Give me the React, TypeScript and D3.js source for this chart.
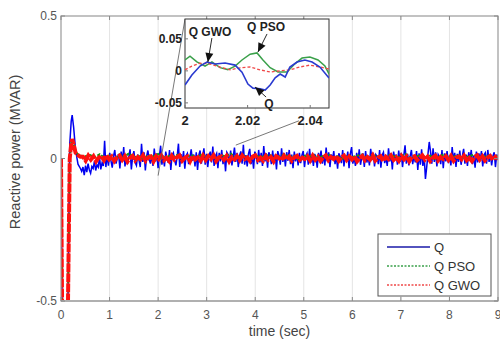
import React from 'react';
import * as d3 from 'd3';

const W = 500;
const H = 340;

// axis ticks
const xTicks = [0, 1, 2, 3, 4, 5, 6, 7, 8, 9];
const yTicks = [-0.5, 0, 0.5];
const yTickLabels = ['-0.5', '0', '0.5'];
const insetXTicks = [2, 2.02, 2.04];
const insetXTickLabels = ['2', '2.02', '2.04'];
const insetYTicks = [-0.05, 0, 0.05];
const insetYTickLabels = ['-0.05', '0', '0.05'];

const seriesNames = ['Q', 'Q PSO', 'Q GWO'];

// start-up transient: time (sec) / reactive power (MVAR)
const transientTime = [0, 0.03, 0.13, 0.18, 0.21, 0.23, 0.26, 0.3, 0.35, 0.4];
const qTransient = [0, -0.7, -0.7, 0.05, 0.13, 0.152, 0.11, 0.03, -0.02, -0.035];
const psoTransient = [0, -0.7, -0.7, 0.0, 0.05, 0.065, 0.05, 0.025, 0.014, 0.01];
const gwoTransient = [0, -0.7, -0.7, 0.0, 0.05, 0.068, 0.05, 0.02, 0.012, 0.006];

// ripple after 0.4 s up to 9 s, evenly spaced, in 1e-3 MVAR
const qRipple = [
  -45, -30, -58, -25, -48, -18, -40, -52, -28, -35, -10, -42, -22, -30, 5, -38, -15, -26, 62, -30,
  12, -25, 20, -8, -32, 8, 30, -18, 2, 15, -35, 24, -12, 40, -28, 10, -20, 6, 32, -38, 5, 26, -14, -24, 14, -6, -30, 52, -12, 22,
  -42, 8, 28, -4, -18, 12, -26, 35, -10, 18, -34, 6, 45, -22, 10, -28, 24, 2, -15, 30, -40, 12, 20, -6, -24, 8, 52, -30, 15, -12,
  26, -36, 10, 18, -20, 4, 32, -8, 14, -28, 22, -40, 12, 28, -18, 6, 36, -22, 16, -30, 10, 24, -14, 42, -26, 8, 18, -34, 20, -10,
  30, -20, 12, -45, 22, 14, -16, 28, -24, 6, 38, -12, 20, -30, 10, 25, -18, 48, -22, 12, -28, 16, 34, -20, 8, -36, 24, 12, -20, 30,
  -14, 20, -26, 44, -10, 18, -32, 22, 8, -20, 28, -16, 14, -38, 26, 10, -22, 36, -12, 18, -28, 22, -8, 30, -20, 14, -34, 24, -10, 16,
  -24, 20, -16, 12, 26, -30, 8, 18, -22, 34, -14, 10, -26, 16, 4, -32, 20, -6, 28, -18, 12, -24, 38, -10, 22, -30, 14, -4, 26, -20,
  10, -36, 18, 6, -16, 30, -28, 12, -8, 24, -34, 16, 40, -18, 8, -26, 20, -12, 32, -22, 4, 18, -30, 26, -14, 10, -24, 34, -6, 20,
  -28, 14, 8, -20, 30, -32, 12, 22, -16, 6, -26, 36, -10, 18, -38, 24, -4, 14, -22, 28, -12, 20, -30, 10, 46, -18, 16, -24, 8, 30,
  -20, 12, -14, 26, -40, 18, -22, 32, -26, 10, -72, -30, 16, 58, 24, -18, 36, -12, 22, -28, 14, 6, -20, 30, -34, 18, -10, 26, -16, 12,
  -24, 40, -8, 20, -30, 16, -12, 28, -22, 8, 34, -18, 14, -26, 22, -4, 30, -20, 10, -32, 24, -14, 18, -8, 26, -28, 12, 20, -18, 30,
  -12, 16, -24, 8, 22, -30, 14, -6,
];
const psoRipple = [
  8, 12, 5, 15, 2, 10, -4, 14, 6, 18, 3, 9, -2, 12, 7, 16, 1, 10, 4, 13, -3, 8, 11, 2, 15,
  5, 9, -1, 12, 6, 17, 3, 8, 10, -2, 14, 4, 9, 12, 1, 7, 15, 3, 10, -4, 11, 6, 13, 2, 9,
  16, 4, 8, -1, 12, 5, 10, 14, 2, 7, 11, -3, 9, 13, 4, 8, 15, 1, 6, 12, 3, 10, -2, 9, 14,
  5, 7, 11, 2, 8, 13, 4, 6, 10, 1, 9,
];
const gwoRipple = [
  6, -8, 10, -4, 8, -10, 3, 9, -6, 11, -3, 7, -9, 4, 10, -5, 8, -11, 2, 9, -7, 5, -3, 11, -8, 4, 7, -10, 8, -2,
  10, -6, 3, -9, 9, -4, 5, 11, -8, 2, 7, -10, 9, -3, 4, -8, 10, -5, 8, -2, 11, -9, 3, 7, -4, 9, -10, 5, -3, 8,
  -6, 10, -2, 4, -9, 7, 11, -5, 3, -8, 9, -4, 5, -10, 8, 2, -6, 10, -3, 7, -8, 4, 9, -5, 3, -2, 8, -7, 10, -4,
  6, -9, 3, 11, -6, 5, -2, 9, -8, 4, 10, -5, 7, -3, 8, -10, 2, 9, -6, 5, -4, 11, -7, 3, 8, -9, 6, -2, 10, -5,
  4, -8, 9, -3, 7, -10, 5, 8, -6, 2, 11, -4, 6, -9, 3, 10, -7, 5, -2, 8, -5, 9, -8, 4, 7, -3, 10, -6, 2, -9,
  5, 11, -4, 8, -7, 3, 9, -5, 6, -2,
];

// zoomed window (2 .. 2.046 s)
const insetQTime = [2.0, 2.0022, 2.0048, 2.007, 2.0096, 2.0128, 2.016, 2.0182, 2.0201, 2.0217,
  2.024, 2.0256, 2.0272, 2.0288, 2.0304, 2.032, 2.0335, 2.0358, 2.0383, 2.0406, 2.0431, 2.046];
const insetQ = [-0.022, -0.0065, 0.0075, 0.0138, 0.0107, 0.0122, 0.009, -0.002, -0.0206, -0.027,
  -0.028, -0.03, -0.022, -0.011, -0.005, -0.0096, 0.006, 0.0138, 0.017, 0.0138, 0.006, -0.011];
const insetPsoTime = [2.0, 2.0016, 2.0038, 2.0064, 2.0086, 2.0112, 2.0137, 2.016, 2.0182, 2.0208,
  2.023, 2.0249, 2.0272, 2.0297, 2.0326, 2.0351, 2.0374, 2.0399, 2.0425, 2.0447, 2.046];
const insetPso = [0.017, 0.023, 0.014, 0.0075, 0.014, 0.005, 0.002, 0.0075, 0.017, 0.026,
  0.028, 0.017, 0.005, -0.0018, -0.0018, 0.011, 0.02, 0.0216, 0.017, 0.0075, -0.0048];
const insetGwoTime = [2.0, 2.0022, 2.0048, 2.008, 2.0112, 2.0144, 2.0176, 2.0208, 2.024, 2.0272,
  2.0303, 2.0335, 2.0367, 2.0399, 2.0431, 2.046];
const insetGwo = [0.0016, 0.0075, 0.012, 0.0107, 0.006, 0.0016, 0.0048, 0.006, 0.0016, -0.0018,
  0, 0.0016, 0.006, 0.009, 0.006, 0.003];

// arrow notes inside the zoom (inset data coords)
const noteNames = ['Q GWO', 'Q PSO', 'Q'];
const noteLabel = [[2.008, 0.0607], [2.0259, 0.0685], [2.0268, -0.0518]];
const noteTail = [[2.0086, 0.0513], [2.0262, 0.0576], [2.0259, -0.0409]];
const noteHead = [[2.0073, 0.0138], [2.0233, 0.0294], [2.0224, -0.0253]];

// connector lines: main plot point -> inset point
const zoomFrom = [[2, -0.06], [3.6, 0.047]];
const zoomTo = [[2, 0.081], [2.0364, -0.078]];

const x = d3.scaleLinear().domain([0, 9]).range([61, 498]);
const y = d3.scaleLinear().domain([-0.5, 0.5]).range([301, 16]);
const xi = d3.scaleLinear().domain([2, 2.046]).range([185, 329]);
const yi = d3.scaleLinear().domain([-0.058, 0.081]).range([108, 19]);

const withRipple = (trans: number[], ripple: number[]) => {
  const pts: [number, number][] = transientTime.map((t, i) => [t, trans[i]]);
  const step = (9 - 0.4) / ripple.length;
  ripple.forEach((v, i) => pts.push([0.4 + (i + 1) * step, v / 1000]));
  return pts;
};

const zip = (t: number[], v: number[]) => t.map((d, i) => [d, v[i]] as [number, number]);

const mainLine = d3.line<[number, number]>().x(d => x(d[0])).y(d => y(d[1]));
const insetLine = d3.line<[number, number]>().x(d => xi(d[0])).y(d => yi(d[1]));

const colors = ['#0000f0', '#109a10', '#ff1010'];
const insetColors = ['#2a3ad0', '#3aa04a', '#f04848'];

const font = 'Arial, "Liberation Sans", Helvetica, sans-serif';

const arrowHead = (tx: number, ty: number, hx: number, hy: number) => {
  const dx = hx - tx, dy = hy - ty;
  const len = Math.hypot(dx, dy) || 1;
  const ux = dx / len, uy = dy / len;
  const bx = hx - ux * 9, by = hy - uy * 9;
  return `${hx},${hy} ${bx - uy * 4},${by + ux * 4} ${bx + uy * 4},${by - ux * 4}`;
};

export default function App() {
  const qPts = withRipple(qTransient, qRipple);
  const psoPts = withRipple(psoTransient, psoRipple);
  const gwoPts = withRipple(gwoTransient, gwoRipple);

  const [x0, x1] = x.range();
  const [yb, yt] = y.range();
  const [ix0, ix1] = xi.range();
  const [iyb, iyt] = yi.range();

  return (
    <svg width={W} height={H} style={{ position: 'absolute', left: 0, top: 0, background: '#fff' }} fontFamily={font}>
      <defs>
        <clipPath id="plot"><rect x={x0} y={yt} width={x1 - x0} height={yb - yt} /></clipPath>
        <clipPath id="inset"><rect x={ix0} y={iyt} width={ix1 - ix0} height={iyb - iyt} /></clipPath>
      </defs>

      {/* grid */}
      {xTicks.slice(1, -1).map(t => (
        <line key={t} x1={x(t)} x2={x(t)} y1={yt} y2={yb} stroke="#e4e4e4" strokeWidth={1} />
      ))}

      {/* series */}
      <g clipPath="url(#plot)" fill="none">
        <path d={mainLine(qPts) || ''} stroke={colors[0]} strokeWidth={1.5} />
        <path d={mainLine(psoPts) || ''} stroke={colors[1]} strokeWidth={2} strokeDasharray="3,1.5" />
        <path d={mainLine(gwoPts) || ''} stroke={colors[2]} strokeWidth={4} strokeDasharray="9,1" />
      </g>

      {/* axes box */}
      <rect x={x0} y={yt} width={x1 - x0} height={yb - yt} fill="none" stroke="#9a9a9a" strokeWidth={1.2} />
      <line x1={x0} x2={x1} y1={yb} y2={yb} stroke="#b0b0b0" strokeWidth={2} />
      {xTicks.map(t => (
        <g key={t}>
          <line x1={x(t)} x2={x(t)} y1={yb} y2={yb - 4} stroke="#888" />
          <line x1={x(t)} x2={x(t)} y1={yt} y2={yt + 4} stroke="#888" />
          <text x={x(t)} y={yb + 18} textAnchor="middle" fontSize={12} fill="#555">{t}</text>
        </g>
      ))}
      {yTicks.map((t, i) => (
        <g key={t}>
          <line x1={x0} x2={x0 + 4} y1={y(t)} y2={y(t)} stroke="#888" />
          <line x1={x1} x2={x1 - 4} y1={y(t)} y2={y(t)} stroke="#888" />
          <text x={x0 - 4} y={y(t) + 4} textAnchor="end" fontSize={12} fill="#555">{yTickLabels[i]}</text>
        </g>
      ))}
      <text x={(x0 + x1) / 2} y={336} textAnchor="middle" fontSize={14} fill="#444">time (sec)</text>
      <text transform="translate(20,152) rotate(-90)" textAnchor="middle" fontSize={14.5} fill="#444">
        Reactive power (MVAR)
      </text>

      {/* connector lines to the zoom */}
      {zoomFrom.map((p, i) => (
        <line key={i} x1={x(p[0])} y1={y(p[1])} x2={xi(zoomTo[i][0])} y2={yi(zoomTo[i][1])}
          stroke="#555" strokeWidth={0.8} />
      ))}

      {/* inset */}
      <rect x={ix0} y={iyt} width={ix1 - ix0} height={iyb - iyt} fill="#fff" stroke="#333" strokeWidth={1} />
      <g clipPath="url(#inset)" fill="none">
        <path d={insetLine(zip(insetPsoTime, insetPso)) || ''} stroke={insetColors[1]} strokeWidth={1.5} />
        <path d={insetLine(zip(insetGwoTime, insetGwo)) || ''} stroke={insetColors[2]} strokeWidth={1.3} strokeDasharray="3,2" />
        <path d={insetLine(zip(insetQTime, insetQ)) || ''} stroke={insetColors[0]} strokeWidth={1.6} />
      </g>
      {insetXTicks.map((t, i) => (
        <g key={t}>
          <line x1={xi(t)} x2={xi(t)} y1={iyb} y2={iyb - 3} stroke="#777" />
          <text x={xi(t)} y={iyb + 17} textAnchor="middle" fontSize={13} fontWeight="bold" fill="#222">{insetXTickLabels[i]}</text>
        </g>
      ))}
      {insetYTicks.map((t, i) => (
        <g key={t}>
          <line x1={ix0} x2={ix0 + 3} y1={yi(t)} y2={yi(t)} stroke="#777" />
          <text x={ix0 - 3} y={yi(t) + 4} textAnchor="end" fontSize={12} fontWeight="bold" fill="#222">{insetYTickLabels[i]}</text>
        </g>
      ))}
      {noteNames.map((name, i) => {
        const tx = xi(noteTail[i][0]), ty = yi(noteTail[i][1]);
        const hx = xi(noteHead[i][0]), hy = yi(noteHead[i][1]);
        return (
          <g key={name}>
            <line x1={tx} y1={ty} x2={hx} y2={hy} stroke="#111" strokeWidth={0.9} />
            <polygon points={arrowHead(tx, ty, hx, hy)} fill="#111" />
            <text x={xi(noteLabel[i][0])} y={yi(noteLabel[i][1]) + 4}
              textAnchor="middle" fontSize={12} fontWeight="bold" fill="#222">
              {name}
            </text>
          </g>
        );
      })}

      {/* legend */}
      <g transform="translate(378,234)">
        <rect width={113} height={62} fill="#fff" stroke="#555" strokeWidth={1} />
        {seriesNames.map((name, i) => (
          <g key={name} transform={`translate(0,${13 + i * 19})`}>
            <line x1={9} x2={52} y1={0} y2={0} stroke={i === 0 ? '#1a1aa8' : insetColors[i]}
              strokeWidth={i === 0 ? 1.6 : 1.3} strokeDasharray={i === 0 ? undefined : '2,1.5'} />
            <text x={56} y={5} fontSize={13} fill="#333">{name}</text>
          </g>
        ))}
      </g>
    </svg>
  );
}
